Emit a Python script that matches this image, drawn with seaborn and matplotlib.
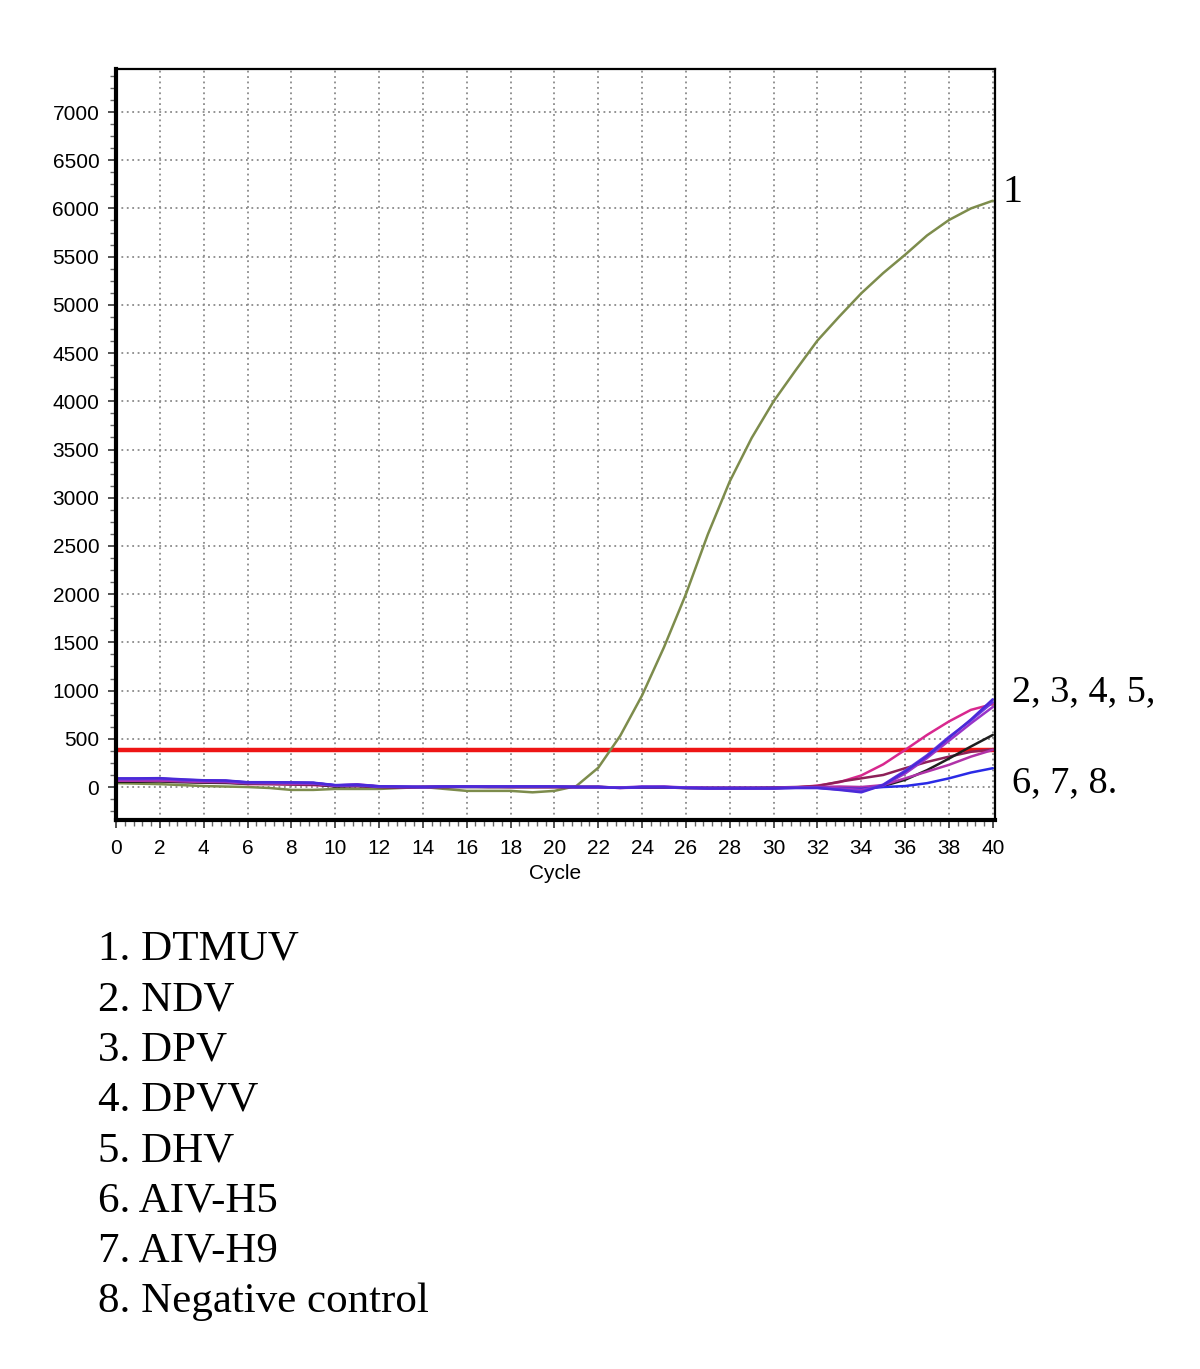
import numpy as np
import pandas as pd
import matplotlib
matplotlib.use("Agg")
import matplotlib.pyplot as plt
from matplotlib.ticker import MultipleLocator, AutoMinorLocator
import seaborn as sns

cycles = list(range(41))

dtmuv = [40, 35, 30, 20, 10, 5, 0, -10, -30, -30,
         -20, -20, -20, -10, 0, -20, -40, -40, -40, -55,
         -40, 10, 200, 530, 950, 1450, 2000, 2620, 3170, 3620,
         4000, 4320, 4630, 4880, 5120, 5330, 5520, 5720, 5880, 6000, 6080]
ndv = [60, 60, 62, 55, 50, 48, 30, 30, 25, 20,
       10, 10, 0, -5, 0, 0, 5, 5, 0, 0,
       0, 0, 0, -10, -5, 0, -5, -10, -10, -10,
       -10, -5, 15, 50, 120, 235, 385, 540, 680, 800, 860]
dpv = [70, 72, 70, 60, 55, 52, 40, 40, 38, 35,
       15, 20, 5, 0, 0, 5, 5, 0, 0, 0,
       0, 0, 0, -5, -5, -5, -10, -10, -10, -10,
       -5, 0, 10, 55, 90, 125, 195, 260, 315, 365, 390]
dpvv = [90, 90, 92, 80, 70, 68, 50, 50, 48, 45,
        20, 25, 8, 5, 0, 5, 5, 5, 5, 5,
        5, 0, 0, -10, 0, 0, -10, -15, -15, -15,
        -15, -10, -10, -30, -55, 20, 160, 320, 510, 700, 910]
dhv = [85, 85, 88, 75, 68, 65, 48, 48, 45, 42,
       18, 22, 5, 3, 0, 3, 3, 3, 3, 3,
       3, 0, 0, -8, 0, 0, -8, -12, -12, -12,
       -12, -8, -8, -25, -45, 25, 170, 330, 520, 690, 880]
aiv_h5 = [75, 78, 80, 70, 62, 60, 45, 45, 42, 40,
          15, 28, 8, 0, 0, 2, 2, 2, 2, 2,
          2, 0, 0, -5, 5, 5, -5, -10, -10, -10,
          -10, -5, -5, -15, -30, 15, 140, 300, 480, 660, 830]
aiv_h9 = [55, 55, 58, 50, 45, 42, 35, 32, 30, 28,
          5, 10, 0, -5, 0, 0, 0, 0, 0, 0,
          0, 0, 0, -5, -5, -5, -10, -10, -10, -10,
          -10, -5, -5, -5, -10, 10, 75, 175, 295, 420, 540]
neg_ctrl = [65, 65, 66, 58, 52, 50, 38, 36, 34, 32,
            12, 15, 2, -2, 0, 2, 2, 2, 2, 2,
            2, 0, 0, -5, -2, -2, -8, -10, -10, -10,
            -10, -5, 0, 5, 0, 20, 90, 160, 230, 315, 385]
extra_blue = [80, 82, 85, 72, 65, 62, 45, 45, 44, 42,
              18, 20, 5, 2, 0, 3, 3, 3, 3, 3,
              3, 0, 0, -6, 0, 0, -6, -10, -10, -10,
              -10, -8, -8, -15, -20, 0, 10, 40, 90, 150, 195]

threshold = 380

series_names = ["DTMUV", "NDV", "DPV", "H9", "NEG", "BLUE", "H5", "DHV", "DPVV"]
series_vals = [dtmuv, ndv, dpv, aiv_h9, neg_ctrl, extra_blue, aiv_h5, dhv, dpvv]
palette = {"DTMUV": "#7d8c4c", "NDV": "#d8288e", "DPV": "#8e2058",
           "H9": "#1e1e1e", "NEG": "#b032a8", "BLUE": "#2a2ae6",
           "H5": "#9a34c8", "DHV": "#6a3ae2", "DPVV": "#4a2ad8"}

legend_lines = ["1. DTMUV", "2. NDV", "3. DPV", "4. DPVV", "5. DHV",
                "6. AIV-H5", "7. AIV-H9", "8. Negative control"]

df = pd.DataFrame({
    "Cycle": np.tile(cycles, len(series_names)),
    "Fluorescence": np.concatenate([np.array(v, dtype=float) for v in series_vals]),
    "Sample": np.repeat(series_names, len(cycles)),
})

sns.set_style("white")
plt.rcParams["font.family"] = ["Liberation Sans", "DejaVu Sans"]
plt.rcParams["text.color"] = "black"
plt.rcParams["axes.labelcolor"] = "black"
plt.rcParams["xtick.color"] = "black"
plt.rcParams["ytick.color"] = "black"

W, H = 1200, 1369
fig = plt.figure(figsize=(W / 100, H / 100), dpi=100)
ax = fig.add_axes([116 / W, 1 - 820 / H, (995 - 116) / W, (820 - 69) / H])

ax.grid(True, which="major", linestyle=(0, (1, 2)), color="#8a8a8a", linewidth=1.3)
ax.set_axisbelow(True)

sns.lineplot(data=df, x="Cycle", y="Fluorescence", hue="Sample",
             hue_order=series_names, palette=palette, legend=False,
             linewidth=1.8, ax=ax, sort=False)
ax.axhline(threshold, color="#ee1515", linewidth=3.2, zorder=1.5)

ax.set_xlim(0, 40.1)
ax.set_ylim(-342, 7446)
ax.xaxis.set_major_locator(MultipleLocator(2))
ax.xaxis.set_minor_locator(AutoMinorLocator(5))
ax.yaxis.set_major_locator(MultipleLocator(500))
ax.yaxis.set_minor_locator(AutoMinorLocator(4))
ax.set_yticks(np.arange(0, 7001, 500))
ax.tick_params(axis="both", which="major", direction="out", length=6, width=1.3,
               color="#444444", labelcolor="black", labelsize=15, pad=6)
ax.tick_params(axis="both", which="minor", direction="out", length=4, width=1.0,
               color="#666666")
ax.tick_params(axis="x", which="major", pad=8)
ax.tick_params(axis="x", which="both", bottom=True)
ax.tick_params(axis="y", which="both", left=True)
ax.set_xlabel("Cycle", fontsize=15, labelpad=4, color="black")
ax.set_ylabel("")

for side in ["left", "bottom"]:
    ax.spines[side].set_linewidth(3.0)
    ax.spines[side].set_color("black")
for side in ["top", "right"]:
    ax.spines[side].set_linewidth(1.6)
    ax.spines[side].set_color("black")
    ax.spines[side].set_visible(True)

serif = ["Liberation Serif", "DejaVu Serif"]
fig.text(1002 / W, 1 - 192 / H, "1", fontsize=29, family=serif, va="center", ha="left", color="black")
fig.text(1012 / W, 1 - 692 / H, "2, 3, 4, 5,", fontsize=27.5, family=serif, va="center", ha="left", color="black")
fig.text(1012 / W, 1 - 783 / H, "6, 7, 8.", fontsize=27.5, family=serif, va="center", ha="left", color="black")

for i, line in enumerate(legend_lines):
    fig.text(98 / W, 1 - (960 + i * 50.3) / H, line, fontsize=31, family=serif,
             va="baseline", ha="left", color="black")

fig.savefig("out.png", dpi=100)
